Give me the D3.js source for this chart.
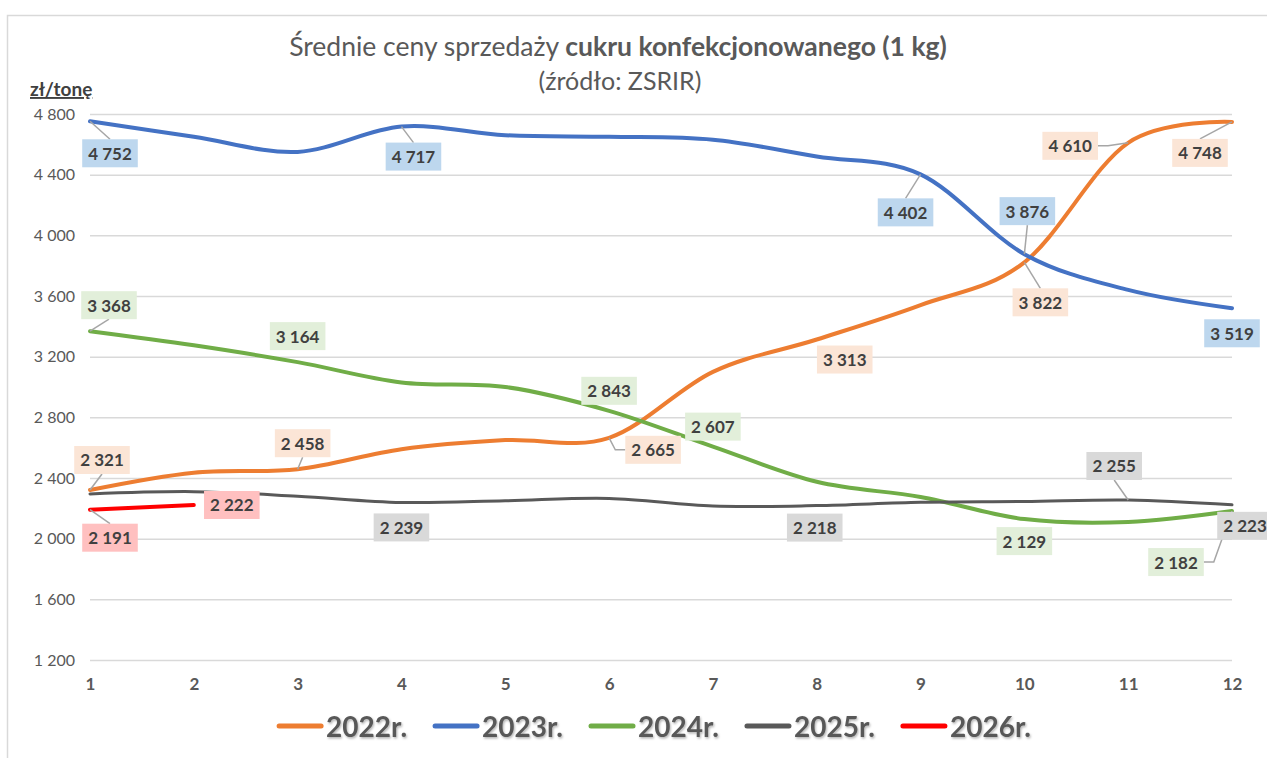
<!DOCTYPE html>
<html lang="pl">
  <head>
    <meta charset="UTF-8" />
    <title>Średnie ceny sprzedaży cukru konfekcjonowanego</title>
    <script src="https://d3js.org/d3.v7.min.js"></script>
    <style>
      body {
        margin: 0;
        background: #fff;
      }
      svg text {
        font-family: Lato, "Open Sans", sans-serif;
      }
      .tick-y {
        font-size: 16px;
        fill: #595959;
      }
      .tick-x {
        font-size: 17px;
        font-weight: bold;
        fill: #595959;
      }
      .data-label {
        font-size: 17px;
        font-weight: bold;
        fill: #404040;
      }
      .legend-text {
        font-size: 28px;
        font-weight: bold;
        fill: #595959;
      }
    </style>
  </head>
  <body>
    <div id="chart"></div>
    <script>
      // --- data ---
      const months = [1, 2, 3, 4, 5, 6, 7, 8, 9, 10, 11, 12];
      const seriesNames = ["2022r.", "2023r.", "2024r.", "2025r.", "2026r."];
      const prices2022 = [2321, 2435, 2458, 2590, 2650, 2665, 3100, 3313, 3540, 3822, 4610, 4748];
      const prices2023 = [4752, 4650, 4550, 4717, 4660, 4650, 4630, 4520, 4402, 3876, 3640, 3519];
      const prices2024 = [3368, 3275, 3164, 3030, 3000, 2843, 2607, 2375, 2275, 2129, 2110, 2182];
      const prices2025 = [2295, 2310, 2280, 2239, 2250, 2265, 2215, 2218, 2240, 2245, 2255, 2223];
      const prices2026 = [2191, 2222];
      const yTicks = [1200, 1600, 2000, 2400, 2800, 3200, 3600, 4000, 4400, 4800];

      const allSeries = [prices2022, prices2023, prices2024, prices2025, prices2026];

      // which points carry a value label, and where the label sits
      // (offset of the box centre from the point, side the leader line attaches to)
      const labelSpots = [
        { s: 0, m: 1, dx: 12, dy: -30, leader: "bottom" },
        { s: 0, m: 3, dx: 5, dy: -26, leader: "bottom" },
        { s: 0, m: 6, dx: 44, dy: 12, leader: "left" },
        { s: 0, m: 8, dx: 28, dy: 20, leader: null },
        { s: 0, m: 10, dx: 16, dy: 40, leader: "top" },
        { s: 0, m: 11, dx: -58, dy: 3, leader: "right" },
        { s: 0, m: 12, dx: -32, dy: 31, leader: "top" },
        { s: 1, m: 1, dx: 20, dy: 32, leader: "top" },
        { s: 1, m: 4, dx: 12, dy: 30, leader: "top" },
        { s: 1, m: 9, dx: -15, dy: 38, leader: "top" },
        { s: 1, m: 10, dx: 3, dy: -43, leader: "bottom" },
        { s: 1, m: 12, dx: 0, dy: 25, leader: null },
        { s: 2, m: 1, dx: 19, dy: -26, leader: "bottom" },
        { s: 2, m: 3, dx: 0, dy: -26, leader: null },
        { s: 2, m: 6, dx: 0, dy: -20, leader: null },
        { s: 2, m: 7, dx: 0, dy: -20, leader: null },
        { s: 2, m: 10, dx: 0, dy: 22, leader: null },
        { s: 2, m: 12, dx: -56, dy: 51, leader: "right" },
        { s: 3, m: 4, dx: 0, dy: 25, leader: null },
        { s: 3, m: 8, dx: -2, dy: 22, leader: null },
        { s: 3, m: 11, dx: -14, dy: -34, leader: "bottom" },
        { s: 3, m: 12, dx: 13, dy: 21, leader: null },
        { s: 4, m: 1, dx: 20, dy: 28, leader: "top" },
        { s: 4, m: 2, dx: 38, dy: 0, leader: null },
      ];

      const lineColors = ["#ED7D31", "#4472C4", "#70AD47", "#595959", "#FF0000"];
      const lineWidths = [4, 4, 4, 3, 4];
      const labelFills = ["#FBE5D6", "#BDD7EE", "#E2EFDA", "#D9D9D9", "#FFC0C0"];

      const W = 1267,
        H = 758;
      const plot = { left: 90, right: 1232, top: 114, bottom: 660 };

      const fmt = d3.formatLocale({
        decimal: ",",
        thousands: "\u00a0",
        grouping: [3],
        currency: ["", ""],
      }).format(",d");

      const svg = d3
        .select("#chart")
        .append("svg")
        .attr("width", W)
        .attr("height", H);

      // soft shadow for the legend text
      const defs = svg.append("defs");
      defs
        .append("filter")
        .attr("id", "shadow")
        .append("feDropShadow")
        .attr("dx", 1)
        .attr("dy", 1.5)
        .attr("stdDeviation", 1)
        .attr("flood-color", "#000")
        .attr("flood-opacity", 0.3);

      // chart frame
      svg
        .append("rect")
        .attr("x", 7.5)
        .attr("y", 15.5)
        .attr("width", 1400)
        .attr("height", 900)
        .attr("fill", "none")
        .attr("stroke", "#d9d9d9")
        .attr("stroke-width", 1.5);

      const x = d3.scalePoint().domain(months).range([plot.left, plot.right]);
      const y = d3.scaleLinear().domain([1200, 4800]).range([plot.bottom, plot.top]);

      // titles
      const title = svg
        .append("text")
        .attr("x", 618)
        .attr("y", 56)
        .attr("text-anchor", "middle")
        .attr("font-size", 26.5)
        .attr("fill", "#595959");
      title.append("tspan").text("Średnie ceny sprzedaży ");
      title.append("tspan").attr("font-weight", "bold").text("cukru konfekcjonowanego (1 kg)");

      svg
        .append("text")
        .attr("x", 620)
        .attr("y", 90)
        .attr("text-anchor", "middle")
        .attr("font-size", 25)
        .attr("fill", "#595959")
        .text("(źródło: ZSRIR)");

      svg
        .append("text")
        .attr("x", 30)
        .attr("y", 96)
        .attr("font-size", 19)
        .attr("font-weight", "bold")
        .attr("fill", "#404040")
        .style("text-decoration", "underline")
        .text("zł/tonę");

      // gridlines + y axis labels
      const yAxis = d3
        .axisLeft(y)
        .tickValues(yTicks)
        .tickSize(-(plot.right - plot.left))
        .tickPadding(15)
        .tickFormat(fmt);

      const gy = svg
        .append("g")
        .attr("transform", `translate(${plot.left},0)`)
        .call(yAxis);
      gy.select(".domain").remove();
      gy.selectAll("line").attr("stroke", "#d9d9d9").attr("stroke-width", 1.5);
      gy.selectAll("text")
        .attr("class", "tick-y")
        .attr("font-family", null)
        .attr("font-size", null)
        .attr("fill", null);

      // x axis labels
      const gx = svg
        .append("g")
        .attr("transform", `translate(0,${plot.bottom})`)
        .call(d3.axisBottom(x).tickSize(0).tickPadding(18));
      gx.select(".domain").remove();
      gx.selectAll("text")
        .attr("class", "tick-x")
        .attr("font-family", null)
        .attr("font-size", null)
        .attr("fill", null);

      // lines
      const line = d3
        .line()
        .x((d, i) => x(months[i]))
        .y((d) => y(d))
        .curve(d3.curveCardinal.tension(0));

      svg
        .append("g")
        .selectAll("path")
        .data(allSeries)
        .join("path")
        .attr("d", line)
        .attr("fill", "none")
        .attr("stroke", (d, i) => lineColors[i])
        .attr("stroke-width", (d, i) => lineWidths[i])
        .attr("stroke-linecap", "round");

      // data labels
      const labelLayer = svg.append("g");
      const boxH = 28;
      labelSpots.forEach((spot) => {
        const v = allSeries[spot.s][spot.m - 1];
        const px = x(spot.m),
          py = y(v);
        const cx = px + spot.dx,
          cy = py + spot.dy;

        const g = labelLayer.append("g");
        const rect = g.append("rect");
        const txt = g
          .append("text")
          .attr("class", "data-label")
          .attr("x", cx)
          .attr("y", cy)
          .attr("text-anchor", "middle")
          .attr("dominant-baseline", "central")
          .text(fmt(v));
        const boxW = txt.node().getComputedTextLength() + 12;
        rect
          .attr("x", cx - boxW / 2)
          .attr("y", cy - boxH / 2)
          .attr("width", boxW)
          .attr("height", boxH)
          .attr("fill", labelFills[spot.s]);

        if (spot.leader) {
          let pts;
          if (spot.leader === "top") pts = [[cx, cy - boxH / 2], [px, py]];
          else if (spot.leader === "bottom") pts = [[cx, cy + boxH / 2], [px, py]];
          else if (spot.leader === "left") {
            const ax = cx - boxW / 2;
            pts = [[ax, cy], [ax - 10, cy], [px, py]];
          } else {
            const ax = cx + boxW / 2;
            pts = [[ax, cy], [ax + 10, cy], [px, py]];
          }
          labelLayer
            .insert("path", ":first-child")
            .attr("d", d3.line()(pts))
            .attr("fill", "none")
            .attr("stroke", "#a6a6a6")
            .attr("stroke-width", 1.5);
        }
      });

      // legend
      const legend = svg.append("g").attr("transform", "translate(0,726)");
      let lx = 0;
      const items = seriesNames.map((name, i) => {
        const g = legend.append("g");
        g.append("line")
          .attr("x1", 0)
          .attr("x2", 42)
          .attr("stroke", lineColors[i])
          .attr("stroke-width", 5)
          .attr("stroke-linecap", "round");
        const t = g
          .append("text")
          .attr("class", "legend-text")
          .attr("x", 47)
          .attr("dominant-baseline", "central")
          .attr("filter", "url(#shadow)")
          .text(name);
        const w = 47 + t.node().getComputedTextLength();
        const item = { g, start: lx };
        lx += w + 28;
        return item;
      });
      const legendWidth = lx - 28;
      const legendStart = 655 - legendWidth / 2;
      items.forEach((it) => it.g.attr("transform", `translate(${legendStart + it.start},0)`));
    </script>
  </body>
</html>
